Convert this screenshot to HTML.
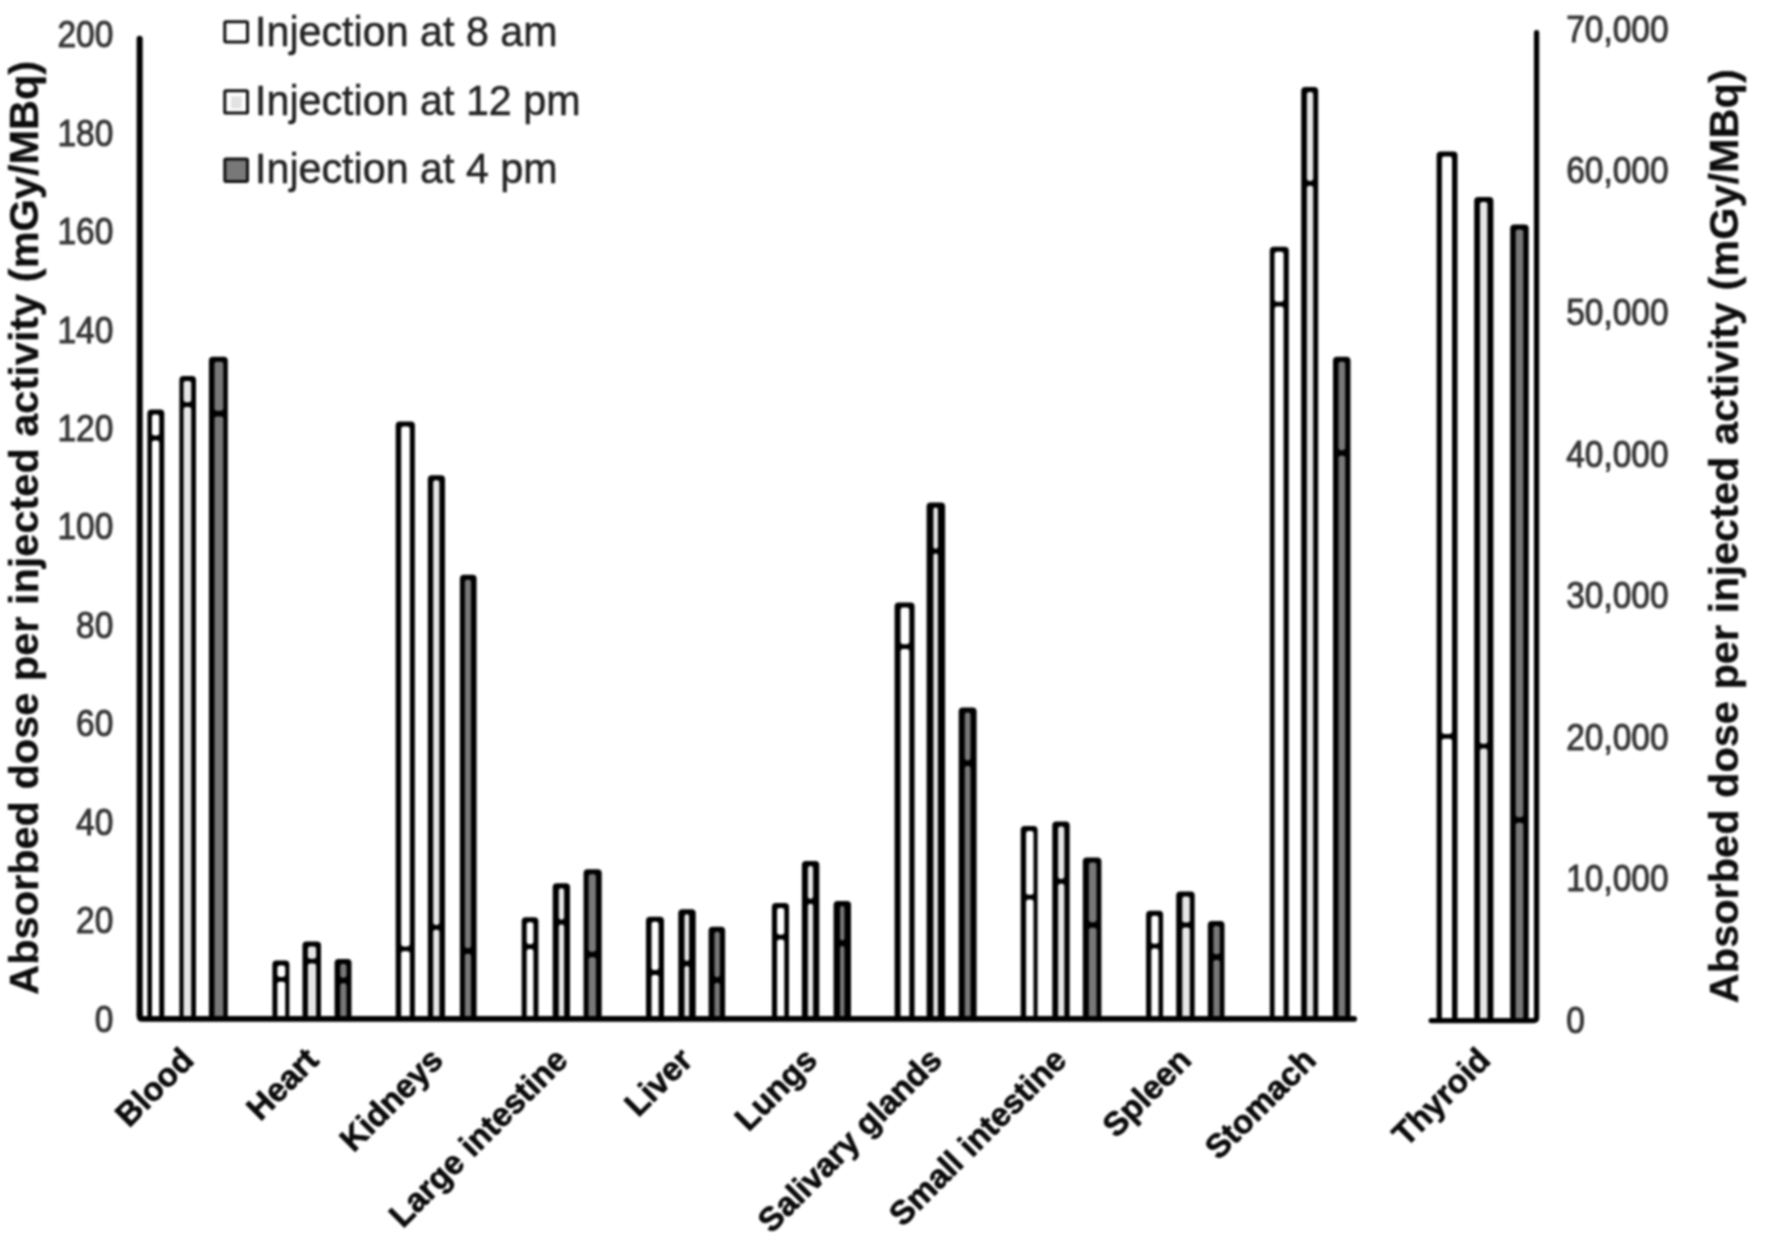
<!DOCTYPE html>
<html lang="en"><head><meta charset="utf-8"><title>Absorbed dose per injected activity</title>
<style>
html,body{margin:0;padding:0;background:#fff;}
body{width:1770px;height:1249px;overflow:hidden;}
svg{display:block;filter:blur(0.9px);font-family:"Liberation Sans",Arial,sans-serif;}
.tick{font-size:33.5px;fill:#363636;stroke:#363636;stroke-width:0.9px;}
.cat{font-size:33.2px;font-weight:bold;fill:#0a0a0a;stroke:#0a0a0a;stroke-width:0.7px;}
.ttl{font-size:41.5px;font-weight:bold;fill:#0d0d0d;stroke:#0d0d0d;stroke-width:0.3px;}
.leg{font-size:41.25px;fill:#222;stroke:#222;stroke-width:0.5px;}
</style></head><body>
<svg width="1770" height="1249" viewBox="0 0 1770 1249">
<rect width="1770" height="1249" fill="#fff"/>

<rect x="147.4" y="409.5" width="16.9" height="609.5" rx="4" fill="#000"/>
<rect x="152.0" y="414.5" width="7.2" height="21.1" rx="2.4" fill="#ffffff"/>
<rect x="152.0" y="440.4" width="7.2" height="577.6" rx="2.4" fill="#ffffff"/>
<rect x="179.4" y="375.9" width="16.6" height="643.1" rx="4" fill="#000"/>
<rect x="183.6" y="380.9" width="7.6" height="21.3" rx="2.4" fill="#e6e6e6"/>
<rect x="183.6" y="407.0" width="7.6" height="611.0" rx="2.4" fill="#e6e6e6"/>
<rect x="208.9" y="356.7" width="18.9" height="662.3" rx="4" fill="#000"/>
<rect x="214.5" y="361.7" width="8.8" height="49.1" rx="2.4" fill="#787878"/>
<rect x="214.5" y="416.4" width="8.8" height="601.6" rx="2.4" fill="#787878"/>
<rect x="272.4" y="960.6" width="17.0" height="58.4" rx="4" fill="#000"/>
<rect x="277.4" y="965.6" width="7.8" height="11.3" rx="2.4" fill="#ffffff"/>
<rect x="277.4" y="981.7" width="7.8" height="36.3" rx="2.4" fill="#ffffff"/>
<rect x="302.5" y="941.6" width="18.5" height="77.4" rx="4" fill="#000"/>
<rect x="307.9" y="946.6" width="8.2" height="12.2" rx="2.4" fill="#e6e6e6"/>
<rect x="307.9" y="963.6" width="8.2" height="54.4" rx="2.4" fill="#e6e6e6"/>
<rect x="334.6" y="959.0" width="16.9" height="60.0" rx="4" fill="#000"/>
<rect x="340.3" y="964.0" width="6.2" height="13.7" rx="2.4" fill="#787878"/>
<rect x="340.3" y="983.3" width="6.2" height="34.7" rx="2.4" fill="#787878"/>
<rect x="395.7" y="421.5" width="19.2" height="597.5" rx="4" fill="#000"/>
<rect x="401.2" y="426.5" width="8.6" height="519.9" rx="2.4" fill="#ffffff"/>
<rect x="401.2" y="951.2" width="8.6" height="66.8" rx="2.4" fill="#ffffff"/>
<rect x="427.8" y="475.3" width="17.2" height="543.7" rx="4" fill="#000"/>
<rect x="433.2" y="480.3" width="6.2" height="444.6" rx="2.4" fill="#e6e6e6"/>
<rect x="433.2" y="929.7" width="6.2" height="88.3" rx="2.4" fill="#e6e6e6"/>
<rect x="459.9" y="574.7" width="16.7" height="444.3" rx="4" fill="#000"/>
<rect x="464.9" y="579.7" width="6.1" height="368.5" rx="2.4" fill="#787878"/>
<rect x="464.9" y="953.8" width="6.1" height="64.2" rx="2.4" fill="#787878"/>
<rect x="521.7" y="917.2" width="16.7" height="101.8" rx="4" fill="#000"/>
<rect x="526.7" y="922.2" width="6.7" height="22.0" rx="2.4" fill="#ffffff"/>
<rect x="526.7" y="949.0" width="6.7" height="69.0" rx="2.4" fill="#ffffff"/>
<rect x="552.7" y="883.3" width="17.3" height="135.7" rx="4" fill="#000"/>
<rect x="558.8" y="888.3" width="5.3" height="31.4" rx="2.4" fill="#e6e6e6"/>
<rect x="558.8" y="924.5" width="5.3" height="93.5" rx="2.4" fill="#e6e6e6"/>
<rect x="583.6" y="869.3" width="18.1" height="149.7" rx="4" fill="#000"/>
<rect x="588.6" y="874.3" width="7.3" height="77.4" rx="2.4" fill="#787878"/>
<rect x="588.6" y="957.3" width="7.3" height="60.7" rx="2.4" fill="#787878"/>
<rect x="646.0" y="916.7" width="18.0" height="102.3" rx="4" fill="#000"/>
<rect x="651.6" y="921.7" width="7.0" height="48.4" rx="2.4" fill="#ffffff"/>
<rect x="651.6" y="974.9" width="7.0" height="43.1" rx="2.4" fill="#ffffff"/>
<rect x="678.3" y="909.3" width="17.4" height="109.7" rx="4" fill="#000"/>
<rect x="684.5" y="914.3" width="4.6" height="46.8" rx="2.3" fill="#e6e6e6"/>
<rect x="684.5" y="965.9" width="4.6" height="52.1" rx="2.3" fill="#e6e6e6"/>
<rect x="708.6" y="926.7" width="16.5" height="92.3" rx="4" fill="#000"/>
<rect x="714.5" y="931.7" width="5.3" height="45.5" rx="2.4" fill="#787878"/>
<rect x="714.5" y="982.8" width="5.3" height="35.2" rx="2.4" fill="#787878"/>
<rect x="771.9" y="902.9" width="17.1" height="116.1" rx="4" fill="#000"/>
<rect x="777.1" y="907.9" width="7.2" height="26.8" rx="2.4" fill="#ffffff"/>
<rect x="777.1" y="939.5" width="7.2" height="78.5" rx="2.4" fill="#ffffff"/>
<rect x="801.9" y="861.1" width="17.4" height="157.9" rx="4" fill="#000"/>
<rect x="807.9" y="866.1" width="5.2" height="32.9" rx="2.4" fill="#e6e6e6"/>
<rect x="807.9" y="903.8" width="5.2" height="114.2" rx="2.4" fill="#e6e6e6"/>
<rect x="833.6" y="900.9" width="17.4" height="118.1" rx="4" fill="#000"/>
<rect x="840.1" y="905.9" width="4.3" height="34.5" rx="2.1" fill="#787878"/>
<rect x="840.1" y="946.0" width="4.3" height="72.0" rx="2.1" fill="#787878"/>
<rect x="894.6" y="602.5" width="20.0" height="416.5" rx="4" fill="#000"/>
<rect x="900.6" y="607.5" width="8.7" height="36.7" rx="2.4" fill="#ffffff"/>
<rect x="900.6" y="649.0" width="8.7" height="369.0" rx="2.4" fill="#ffffff"/>
<rect x="926.6" y="502.5" width="18.5" height="516.5" rx="4" fill="#000"/>
<rect x="933.4" y="507.5" width="4.5" height="41.3" rx="2.2" fill="#e6e6e6"/>
<rect x="933.4" y="553.6" width="4.5" height="464.4" rx="2.2" fill="#e6e6e6"/>
<rect x="958.7" y="707.5" width="17.9" height="311.5" rx="4" fill="#000"/>
<rect x="964.8" y="712.5" width="5.7" height="47.9" rx="2.4" fill="#787878"/>
<rect x="964.8" y="766.0" width="5.7" height="252.0" rx="2.4" fill="#787878"/>
<rect x="1020.7" y="826.0" width="16.9" height="193.0" rx="4" fill="#000"/>
<rect x="1026.1" y="831.0" width="7.4" height="63.8" rx="2.4" fill="#ffffff"/>
<rect x="1026.1" y="899.6" width="7.4" height="118.4" rx="2.4" fill="#ffffff"/>
<rect x="1052.3" y="821.5" width="17.4" height="197.5" rx="4" fill="#000"/>
<rect x="1058.1" y="826.5" width="6.2" height="52.5" rx="2.4" fill="#e6e6e6"/>
<rect x="1058.1" y="883.8" width="6.2" height="134.2" rx="2.4" fill="#e6e6e6"/>
<rect x="1082.8" y="857.6" width="18.6" height="161.4" rx="4" fill="#000"/>
<rect x="1088.9" y="862.6" width="7.6" height="59.6" rx="2.4" fill="#787878"/>
<rect x="1088.9" y="927.8" width="7.6" height="90.2" rx="2.4" fill="#787878"/>
<rect x="1146.1" y="910.7" width="17.0" height="108.3" rx="4" fill="#000"/>
<rect x="1151.4" y="915.7" width="7.1" height="28.1" rx="2.4" fill="#ffffff"/>
<rect x="1151.4" y="948.6" width="7.1" height="69.4" rx="2.4" fill="#ffffff"/>
<rect x="1176.2" y="891.5" width="18.5" height="127.5" rx="4" fill="#000"/>
<rect x="1182.3" y="896.5" width="7.5" height="26.1" rx="2.4" fill="#e6e6e6"/>
<rect x="1182.3" y="927.4" width="7.5" height="90.6" rx="2.4" fill="#e6e6e6"/>
<rect x="1207.8" y="920.9" width="16.7" height="98.1" rx="4" fill="#000"/>
<rect x="1213.4" y="925.9" width="6.4" height="28.4" rx="2.4" fill="#787878"/>
<rect x="1213.4" y="959.9" width="6.4" height="58.1" rx="2.4" fill="#787878"/>
<rect x="1269.8" y="246.8" width="19.0" height="772.2" rx="4" fill="#000"/>
<rect x="1274.6" y="251.8" width="9.0" height="50.0" rx="2.4" fill="#ffffff"/>
<rect x="1274.6" y="306.6" width="9.0" height="711.4" rx="2.4" fill="#ffffff"/>
<rect x="1301.2" y="87.0" width="17.0" height="932.0" rx="4" fill="#000"/>
<rect x="1306.9" y="92.0" width="6.3" height="89.0" rx="2.4" fill="#e6e6e6"/>
<rect x="1306.9" y="185.8" width="6.3" height="832.2" rx="2.4" fill="#e6e6e6"/>
<rect x="1333.0" y="356.7" width="17.5" height="662.3" rx="4" fill="#000"/>
<rect x="1338.5" y="361.7" width="6.7" height="88.5" rx="2.4" fill="#787878"/>
<rect x="1338.5" y="455.8" width="6.7" height="562.2" rx="2.4" fill="#787878"/>
<rect x="1436.6" y="151.5" width="20.9" height="869.1" rx="4" fill="#000"/>
<rect x="1441.9" y="156.5" width="10.1" height="577.5" rx="2.4" fill="#ffffff"/>
<rect x="1441.9" y="738.8" width="10.1" height="280.8" rx="2.4" fill="#ffffff"/>
<rect x="1474.2" y="196.9" width="19.2" height="823.7" rx="4" fill="#000"/>
<rect x="1480.0" y="201.9" width="7.4" height="541.9" rx="2.4" fill="#e6e6e6"/>
<rect x="1480.0" y="748.6" width="7.4" height="271.0" rx="2.4" fill="#e6e6e6"/>
<rect x="1510.2" y="224.5" width="18.5" height="796.1" rx="4" fill="#000"/>
<rect x="1515.7" y="229.5" width="7.6" height="587.7" rx="2.4" fill="#787878"/>
<rect x="1515.7" y="822.8" width="7.6" height="196.8" rx="2.4" fill="#787878"/>
<g stroke="#000" stroke-linecap="round" stroke-linejoin="round" fill="none">
<path d="M139.65 38.8 V1016" stroke-width="6.1"/>
<path d="M139.65 1012 V1016.4 Q139.65 1018.9 142.2 1018.9 H1354.2" stroke-width="5.6"/>
<path d="M1431.2 1020.6 H1533.6 Q1536.6 1020.6 1536.6 1017.6 V32.6" stroke-width="5.3"/>
</g>
<text class="tick" transform="translate(113.3,1018.8) scale(1,1.085)" y="12" text-anchor="end">0</text>
<text class="tick" transform="translate(113.3,920.3) scale(1,1.085)" y="12" text-anchor="end">20</text>
<text class="tick" transform="translate(113.3,821.9) scale(1,1.085)" y="12" text-anchor="end">40</text>
<text class="tick" transform="translate(113.3,723.4) scale(1,1.085)" y="12" text-anchor="end">60</text>
<text class="tick" transform="translate(113.3,624.9) scale(1,1.085)" y="12" text-anchor="end">80</text>
<text class="tick" transform="translate(113.3,526.4) scale(1,1.085)" y="12" text-anchor="end">100</text>
<text class="tick" transform="translate(113.3,428.0) scale(1,1.085)" y="12" text-anchor="end">120</text>
<text class="tick" transform="translate(113.3,329.5) scale(1,1.085)" y="12" text-anchor="end">140</text>
<text class="tick" transform="translate(113.3,231.0) scale(1,1.085)" y="12" text-anchor="end">160</text>
<text class="tick" transform="translate(113.3,132.6) scale(1,1.085)" y="12" text-anchor="end">180</text>
<text class="tick" transform="translate(113.3,34.1) scale(1,1.085)" y="12" text-anchor="end">200</text>
<text class="tick" transform="translate(1566.2,1019.8) scale(1,1.085)" y="12">0</text>
<text class="tick" transform="translate(1566.2,878.2) scale(1,1.085)" y="12">10,000</text>
<text class="tick" transform="translate(1566.2,736.6) scale(1,1.085)" y="12">20,000</text>
<text class="tick" transform="translate(1566.2,595.1) scale(1,1.085)" y="12">30,000</text>
<text class="tick" transform="translate(1566.2,453.5) scale(1,1.085)" y="12">40,000</text>
<text class="tick" transform="translate(1566.2,311.9) scale(1,1.085)" y="12">50,000</text>
<text class="tick" transform="translate(1566.2,170.3) scale(1,1.085)" y="12">60,000</text>
<text class="tick" transform="translate(1566.2,28.7) scale(1,1.085)" y="12">70,000</text>
<rect x="224.8" y="21.8" width="22.7" height="20.2" rx="1.2" fill="#ffffff" stroke="#111" stroke-width="3" stroke-linejoin="round"/>
<text class="leg" transform="translate(255,30.50) scale(1,1.05)" y="14.77">Injection at 8 am</text>
<rect x="224.8" y="90.7" width="22.7" height="22.4" rx="1.2" fill="#ffffff" stroke="#111" stroke-width="3" stroke-linejoin="round"/>
<rect x="231" y="96.2" width="10.6" height="12.2" fill="#e2e2e2"/>
<text class="leg" transform="translate(255,99.10) scale(1,1.05)" y="14.77">Injection at 12 pm</text>
<rect x="224.8" y="159.1" width="22.7" height="22.4" rx="1.2" fill="#787878" stroke="#111" stroke-width="3" stroke-linejoin="round"/>
<text class="leg" transform="translate(255,167.35) scale(1,1.05)" y="14.77">Injection at 4 pm</text>
<text class="ttl" transform="translate(38.4,527.8) rotate(-90)" text-anchor="middle">Absorbed dose per injected activity (mGy/MBq)</text>
<text class="ttl" transform="translate(1737.8,536.2) rotate(-90)" text-anchor="middle">Absorbed dose per injected activity (mGy/MBq)</text>
<text class="cat" transform="translate(195.5,1062.0) rotate(-45)" text-anchor="end">Blood</text>
<text class="cat" transform="translate(320.2,1062.0) rotate(-45)" text-anchor="end">Heart</text>
<text class="cat" transform="translate(444.9,1062.0) rotate(-45)" text-anchor="end">Kidneys</text>
<text class="cat" transform="translate(569.6,1062.0) rotate(-45)" text-anchor="end">Large intestine</text>
<text class="cat" transform="translate(694.3,1062.0) rotate(-45)" text-anchor="end">Liver</text>
<text class="cat" transform="translate(819.0,1062.0) rotate(-45)" text-anchor="end">Lungs</text>
<text class="cat" transform="translate(943.7,1062.0) rotate(-45)" text-anchor="end">Salivary glands</text>
<text class="cat" transform="translate(1068.4,1062.0) rotate(-45)" text-anchor="end">Small intestine</text>
<text class="cat" transform="translate(1193.1,1062.0) rotate(-45)" text-anchor="end">Spleen</text>
<text class="cat" transform="translate(1317.8,1062.0) rotate(-45)" text-anchor="end">Stomach</text>
<text class="cat" transform="translate(1492.0,1062.0) rotate(-45)" text-anchor="end">Thyroid</text>
</svg></body></html>
